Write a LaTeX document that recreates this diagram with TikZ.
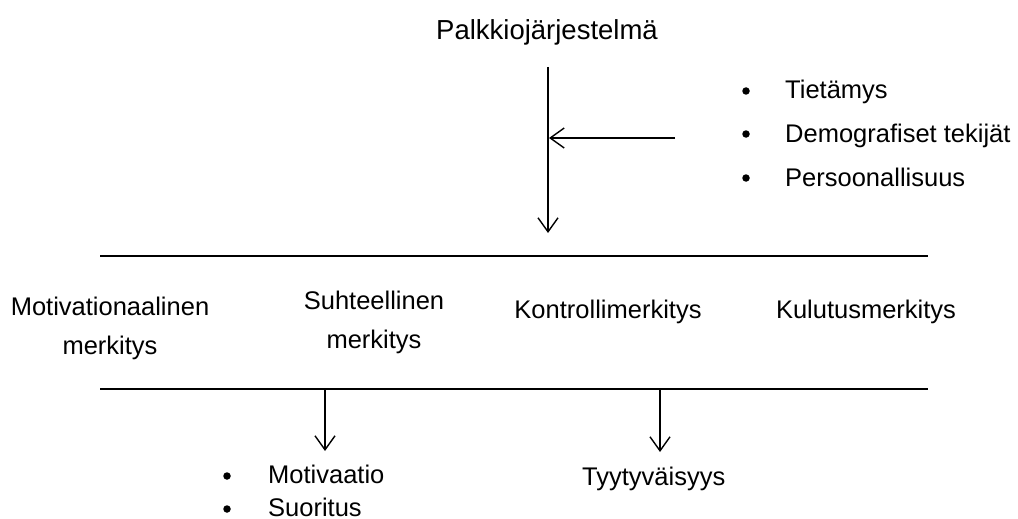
\documentclass[tikz,border=0pt]{standalone}
\usepackage{fontspec}
\setmainfont{Liberation Sans}
\usetikzlibrary{arrows.meta}
\begin{document}
\begin{tikzpicture}[x=1pt,y=-1pt,
  txt/.style={inner sep=0pt,font=\fontsize{25.5}{39}\selectfont,text=black},
  title/.style={inner sep=0pt,font=\fontsize{27.5}{33}\selectfont,text=black},
  rule/.style={line width=1.4pt,black},
  arr/.style={line width=1.4pt,black,-{Straight Barb[length=14pt,width=20pt,line width=1.4pt]}},
  bul/.style={circle,fill=black,inner sep=0pt,minimum size=7.5pt}]
\useasboundingbox (0,0) rectangle (1018,519);
% title
\node[title,anchor=base] (title) at (547,40) {Palkkiojärjestelmä};
\coordinate (vtop) at (548,67);
\coordinate (vbot) at (548,233);
\draw[arr] (vtop) -- (vbot);
% side factors
\node[txt,anchor=base west] (t1) at (785,99) {Tietämys};
\node[txt,anchor=base west] (t2) at (785,142) {Demografiset tekijät};
\node[txt,anchor=base west] (t3) at (785,186) {Persoonallisuus};
\node[bul] (b1) at (746,91) {};
\node[bul] (b2) at (746,134) {};
\node[bul] (b3) at (746,178) {};
\coordinate (hstart) at (675,138);
\coordinate (hend) at (549,138);
\draw[arr] (hstart) -- (hend);
% lines
\coordinate (l1a) at (100,256);
\coordinate (l1b) at (928,256);
\coordinate (l2a) at (100,389);
\coordinate (l2b) at (928,389);
\draw[rule] (l1a) -- (l1b);
\draw[rule] (l2a) -- (l2b);
% meanings
\node[txt,anchor=base,align=center] (m1) at (110,354) {Motivationaalinen\\merkitys};
\node[txt,anchor=base,align=center] (m2) at (374,348) {Suhteellinen\\merkitys};
\node[txt,anchor=base] (m3) at (608,318) {Kontrollimerkitys};
\node[txt,anchor=base] (m4) at (866,318) {Kulutusmerkitys};
% outcomes
\coordinate (d1a) at (325,389);
\coordinate (d1b) at (325,451);
\coordinate (d2a) at (660,389);
\coordinate (d2b) at (660,452);
\draw[arr] (d1a) -- (d1b);
\draw[arr] (d2a) -- (d2b);
\node[txt,anchor=base west] (o1) at (268,483) {Motivaatio};
\node[txt,anchor=base west] (o2) at (268,516) {Suoritus};
\node[bul] (ob1) at (227,476) {};
\node[bul] (ob2) at (227,509) {};
\node[txt,anchor=base west] (o3) at (582,485) {Tyytyväisyys};
\end{tikzpicture}
\end{document}
